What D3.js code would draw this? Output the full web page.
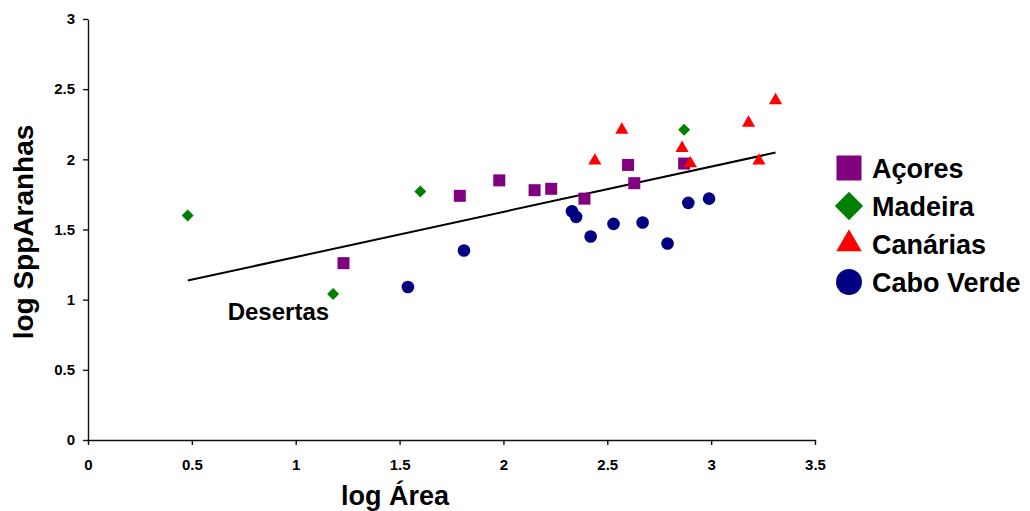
<!DOCTYPE html>
<html>
<head>
<meta charset="utf-8">
<script src="https://cdn.jsdelivr.net/npm/d3@7"></script>
<style>
  body { margin: 0; background: #fff; }
  svg { display: block; font-family: "Liberation Sans", Arial, sans-serif; font-weight: bold; }
  .axis path, .axis line { stroke: #111; stroke-width: 1.4; }
  .axis text { font-size: 15px; font-weight: bold; fill: #000; }
</style>
</head>
<body>
<svg id="chart" width="1030" height="511"></svg>
<script>
// values (log area, log species)
var acoresX = [1.23, 1.79, 1.98, 2.15, 2.23, 2.39, 2.60, 2.63, 2.87];
var acoresY = [1.26, 1.74, 1.85, 1.78, 1.79, 1.72, 1.96, 1.83, 1.97];
var madeiraX = [0.48, 1.18, 1.60, 2.87];
var madeiraY = [1.60, 1.04, 1.77, 2.21];
var canariasX = [2.44, 2.57, 2.86, 2.90, 3.18, 3.23, 3.31];
var canariasY = [1.99, 2.21, 2.08, 1.97, 2.26, 1.99, 2.42];
var caboX = [1.54, 1.81, 2.33, 2.35, 2.42, 2.53, 2.67, 2.79, 2.89, 2.99];
var caboY = [1.09, 1.35, 1.63, 1.59, 1.45, 1.54, 1.55, 1.40, 1.69, 1.72];
var trendX = [0.48, 3.31];
var trendY = [1.136, 2.048];
var xTicks = [0, 0.5, 1, 1.5, 2, 2.5, 3, 3.5];
var yTicks = [0, 0.5, 1, 1.5, 2, 2.5, 3];
var seriesNames = ["Açores", "Madeira", "Canárias", "Cabo Verde"];

var svg = d3.select("#chart");

var x = d3.scaleLinear().domain([0, 3.5]).range([88, 815]);
var y = d3.scaleLinear().domain([0, 3]).range([440, 19]);

// axes
svg.append("g")
  .attr("class", "axis")
  .attr("transform", "translate(0," + y(0) + ")")
  .call(d3.axisBottom(x).tickValues(xTicks).tickSize(5).tickSizeOuter(0).tickPadding(14).tickFormat(function(d) { return String(d); }));

svg.append("g")
  .attr("class", "axis")
  .attr("transform", "translate(" + x(0) + ",0)")
  .call(d3.axisLeft(y).tickValues(yTicks).tickSize(5).tickSizeOuter(0).tickPadding(8).tickFormat(function(d) { return String(d); }));

// axis titles
svg.append("text")
  .attr("x", 395).attr("y", 505)
  .attr("text-anchor", "middle")
  .style("font-size", "27px")
  .text("log Área");

svg.append("text")
  .attr("transform", "translate(33,232) rotate(-90)")
  .attr("text-anchor", "middle")
  .style("font-size", "28px")
  .text("log SppAranhas");

// trend line
svg.append("line")
  .attr("x1", x(trendX[0])).attr("y1", y(trendY[0]))
  .attr("x2", x(trendX[1])).attr("y2", y(trendY[1]))
  .attr("stroke", "#000")
  .attr("stroke-width", 2);

var series = [
  { name: seriesNames[0], xs: acoresX, ys: acoresY, color: "#800080", type: d3.symbolSquare, size: 144, legendSize: 625, rot: 0 },
  { name: seriesNames[1], xs: madeiraX, ys: madeiraY, color: "#008000", type: d3.symbolSquare, size: 72, legendSize: 400, rot: 45 },
  { name: seriesNames[2], xs: canariasX, ys: canariasY, color: "#ff0000", type: d3.symbolTriangle, size: 75, legendSize: 280, rot: 0 },
  { name: seriesNames[3], xs: caboX, ys: caboY, color: "#000080", type: d3.symbolCircle, size: 125, legendSize: 530, rot: 0 }
];

series.forEach(function(s) {
  var sym = d3.symbol().type(s.type).size(s.size);
  svg.append("g").selectAll("path")
    .data(s.xs.map(function(v, i) { return [v, s.ys[i]]; }))
    .enter().append("path")
    .attr("d", sym)
    .attr("fill", s.color)
    .attr("transform", function(d) {
      return "translate(" + x(d[0]) + "," + y(d[1]) + ") rotate(" + s.rot + ")";
    });
});

// Desertas label, next to the Desertas point
svg.append("text")
  .attr("x", x(madeiraX[1]) - 4)
  .attr("y", y(madeiraY[1]) + 26)
  .attr("text-anchor", "end")
  .style("font-size", "24px")
  .text("Desertas");

// legend
var legend = svg.append("g").attr("transform", "translate(849,168)");
series.forEach(function(s, i) {
  var row = legend.append("g").attr("transform", "translate(0," + (i * 38) + ")");
  row.append("path")
    .attr("d", d3.symbol().type(s.type).size(s.legendSize))
    .attr("fill", s.color)
    .attr("transform", "rotate(" + s.rot + ")");
  row.append("text")
    .attr("x", 23)
    .attr("y", 10)
    .style("font-size", "27px")
    .text(s.name);
});
</script>
</body>
</html>
